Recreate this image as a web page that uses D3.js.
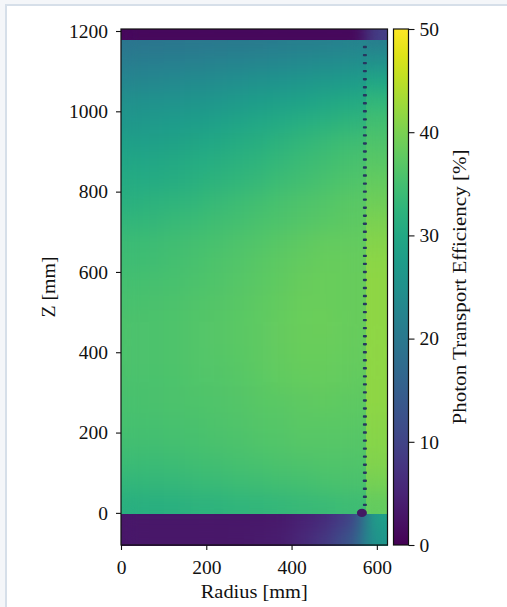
<!DOCTYPE html>
<html>
<head>
<meta charset="utf-8">
<script src="https://cdn.jsdelivr.net/npm/d3@7"></script>
<style>
  html, body { margin: 0; padding: 0; background: #f4f6f9; overflow: hidden; }
  #panel { position: absolute; left: 5px; top: 4px; width: 640px; height: 720px; background: #fff; border: 2px solid #d6dfe9; box-sizing: border-box; }
  #root { position: absolute; left: 0; top: 0; }
</style>
</head>
<body>
<div id="panel"></div>
<div id="root"></div>
<script>
/* global d3 */

// radial bin edges [mm]; the last column is the strip outside the sensor ring
const radiusEdges = [0, 50, 100, 150, 200, 250, 300, 350, 400, 450, 500, 550, 575, 625];
// height bin edges [mm], bottom to top
const zEdges = [-80, -40, 0, 50, 100, 150, 200, 250, 300, 350, 400, 450, 500, 550, 600,
  650, 700, 750, 800, 850, 900, 950, 1000, 1050, 1100, 1150, 1180, 1205];

// photon transport efficiency [%], one row per z bin (bottom to top)
const efficiency = [
  [3, 3, 3, 3, 3, 3.2, 3.5, 4, 5.5, 8, 12, 18, 26],
  [3, 3, 3, 3, 3, 3, 3.2, 3.5, 4.5, 6, 9, 15, 28],
  [31.5, 31.6, 31.8, 32.1, 32.4, 32.7, 33.0, 33.3, 33.6, 33.9, 34.2, 34.4, 38],
  [33.0, 33.1, 33.3, 33.6, 33.9, 34.2, 34.5, 34.8, 35.1, 35.4, 35.6, 35.7, 39.5],
  [34.0, 34.1, 34.3, 34.6, 34.9, 35.2, 35.5, 35.8, 36.1, 36.3, 36.3, 36.2, 40.5],
  [34.8, 34.9, 35.1, 35.3, 35.6, 35.9, 36.2, 36.5, 36.8, 36.9, 36.8, 36.7, 41],
  [35.2, 35.3, 35.5, 35.7, 36.0, 36.3, 36.6, 36.9, 37.2, 37.3, 37.2, 37.1, 41.2],
  [35.5, 35.6, 35.8, 36.0, 36.3, 36.6, 37.0, 37.3, 37.6, 37.7, 37.6, 37.5, 41.5],
  [35.6, 35.7, 35.9, 36.2, 36.5, 36.9, 37.3, 37.7, 38.0, 38.1, 37.9, 37.8, 41.5],
  [35.8, 35.9, 36.1, 36.4, 36.7, 37.1, 37.5, 37.9, 38.3, 38.4, 38.2, 38.1, 41.5],
  [35.8, 35.9, 36.1, 36.4, 36.8, 37.2, 37.6, 38.1, 38.5, 38.6, 38.3, 38.2, 41.5],
  [35.8, 35.9, 36.1, 36.4, 36.8, 37.2, 37.6, 38.1, 38.6, 38.7, 38.4, 38.3, 41.5],
  [35.5, 35.6, 35.9, 36.2, 36.6, 37.0, 37.5, 38.0, 38.5, 38.6, 38.4, 38.3, 41.5],
  [35.0, 35.2, 35.5, 35.9, 36.3, 36.8, 37.3, 37.8, 38.3, 38.5, 38.4, 38.3, 41.5],
  [34.5, 34.7, 35.1, 35.5, 36.0, 36.5, 37.0, 37.5, 38.0, 38.3, 38.3, 38.2, 41.3],
  [34.0, 34.2, 34.6, 35.0, 35.5, 36.0, 36.5, 37.0, 37.5, 37.9, 38.0, 38.0, 40.8],
  [33.0, 33.2, 33.6, 34.1, 34.6, 35.1, 35.6, 36.1, 36.6, 37.1, 37.4, 37.6, 40],
  [31.8, 32.1, 32.5, 33.0, 33.6, 34.2, 34.8, 35.4, 36.0, 36.5, 37.0, 37.3, 39],
  [30.5, 30.8, 31.2, 31.7, 32.3, 32.9, 33.5, 34.2, 34.9, 35.5, 36.1, 36.4, 38],
  [29.5, 29.8, 30.2, 30.7, 31.3, 31.9, 32.6, 33.3, 34.0, 34.7, 35.3, 35.6, 37],
  [28.0, 28.3, 28.8, 29.4, 30.0, 30.7, 31.4, 32.1, 32.9, 33.6, 34.2, 34.6, 36],
  [26.5, 26.8, 27.2, 27.7, 28.3, 29.0, 29.7, 30.4, 31.1, 31.8, 32.4, 32.8, 34.8],
  [25.0, 25.2, 25.6, 26.0, 26.5, 27.1, 27.7, 28.3, 28.9, 29.5, 30.1, 30.5, 33],
  [23.0, 23.2, 23.5, 23.9, 24.3, 24.8, 25.3, 25.8, 26.3, 26.8, 27.3, 27.7, 29.5],
  [21.0, 21.1, 21.3, 21.6, 21.9, 22.3, 22.7, 23.1, 23.5, 23.9, 24.3, 24.7, 25],
  [19.3, 19.4, 19.6, 19.8, 20.0, 20.2, 20.5, 20.8, 21.1, 21.4, 21.7, 22.0, 21],
  [1, 1, 1, 1, 1, 1, 1, 1, 1, 1, 1, 1.5, 9],
];

// sensor positions drawn as small marks along the barrel
const sensorRadius = 572;
const sensorZ = [20, 40, 60, 80, 100, 120, 140, 160, 180, 200, 220, 240, 260, 280, 300,
  320, 340, 360, 380, 400, 420, 440, 460, 480, 500, 520, 540, 560, 580, 600, 620, 640,
  660, 680, 700, 720, 740, 760, 780, 800, 820, 840, 860, 880, 900, 920, 940, 960, 980,
  1000, 1020, 1040, 1060, 1080, 1100, 1120, 1140, 1160];
const cornerSensor = { r: 565, z: 0 };

const xTicks = [0, 200, 400, 600];
const zTicks = [0, 200, 400, 600, 800, 1000, 1200];
const colorTicks = [0, 10, 20, 30, 40, 50];

const width = 507;
const height = 607;
const font = '"Liberation Serif", "DejaVu Serif", serif';
const fontSize = '19.5px';
const ink = '#111';

const x = d3.scaleLinear().domain([0, 625]).range([121, 387.5]);
const y = d3.scaleLinear().domain([-80, 1205]).range([545, 29]);
const color = d3.scaleSequential(d3.interpolateViridis).domain([0, 50]);
const cbar = d3.scaleLinear().domain([0, 50]).range([545, 29]);

const svg = d3.select('#root')
  .append('svg')
  .attr('width', width)
  .attr('height', height);

const defs = svg.append('defs');

// blur each block and renormalise alpha so edges keep their own colour
const smooth = defs.append('filter')
  .attr('id', 'smooth')
  .attr('x', 0).attr('y', 0).attr('width', 1).attr('height', 1)
  .attr('color-interpolation-filters', 'sRGB');
smooth.append('feGaussianBlur').attr('stdDeviation', 8);
smooth.append('feComponentTransfer')
  .append('feFuncA').attr('type', 'linear').attr('slope', 60).attr('intercept', 0);

const cells = [];
efficiency.forEach((row, i) => {
  row.forEach((value, j) => {
    let block = 'main';
    if (i < 2) block = 'bottom';
    else if (i === efficiency.length - 1) block = 'top';
    else if (j === row.length - 1) block = 'strip';
    cells.push({
      r0: radiusEdges[j], r1: radiusEdges[j + 1],
      z0: zEdges[i], z1: zEdges[i + 1],
      value, block,
    });
  });
});

const heat = svg.append('g').attr('class', 'heat');
d3.groups(cells, (d) => d.block).forEach(([, blockCells]) => {
  heat.append('g')
    .attr('filter', 'url(#smooth)')
    .selectAll('rect')
    .data(blockCells)
    .enter()
    .append('rect')
    .attr('x', (d) => x(d.r0))
    .attr('y', (d) => y(d.z1))
    .attr('width', (d) => x(d.r1) - x(d.r0) + 0.5)
    .attr('height', (d) => y(d.z0) - y(d.z1) + 0.5)
    .attr('fill', (d) => color(d.value));
});

svg.append('g')
  .selectAll('rect')
  .data(sensorZ)
  .enter()
  .append('rect')
  .attr('x', x(sensorRadius) - 2)
  .attr('y', (d) => y(d) - 1.2)
  .attr('width', 4)
  .attr('height', 2.4)
  .attr('rx', 0.8)
  .attr('fill', '#27365f');

svg.append('ellipse')
  .attr('cx', x(cornerSensor.r))
  .attr('cy', y(cornerSensor.z))
  .attr('rx', 5)
  .attr('ry', 4.2)
  .attr('fill', '#421a62');

svg.append('rect')
  .attr('x', x(0))
  .attr('y', y(1205))
  .attr('width', x(625) - x(0))
  .attr('height', y(-80) - y(1205))
  .attr('fill', 'none')
  .attr('stroke', ink)
  .attr('stroke-width', 1.2);

function styleAxis(g) {
  g.attr('font-family', font).attr('font-size', fontSize);
  g.select('.domain').remove();
  g.selectAll('.tick line').attr('stroke', ink).attr('stroke-width', 1.1);
  g.selectAll('.tick text').attr('fill', ink);
}

svg.append('g')
  .attr('transform', `translate(${ x(0) },0)`)
  .call(d3.axisLeft(y).tickValues(zTicks).tickFormat(d3.format('d')).tickSize(5).tickPadding(8))
  .call(styleAxis);

svg.append('g')
  .attr('transform', `translate(0,${ y(-80) })`)
  .call(d3.axisBottom(x).tickValues(xTicks).tickFormat(d3.format('d')).tickSize(5).tickPadding(10))
  .call(styleAxis);

function label(text, length) {
  return svg.append('text')
    .attr('text-anchor', 'middle')
    .attr('font-family', font)
    .attr('font-size', fontSize)
    .attr('fill', ink)
    .attr('textLength', length)
    .attr('lengthAdjust', 'spacingAndGlyphs')
    .text(text);
}

label('Z [mm]', 61)
  .attr('transform', `translate(55,${ (y(-80) + y(1205)) / 2 }) rotate(-90)`);

label('Radius [mm]', 107)
  .attr('x', (x(0) + x(625)) / 2)
  .attr('y', 598);

// colour bar
const grad = defs.append('linearGradient')
  .attr('id', 'viridis')
  .attr('x1', 0).attr('y1', 1).attr('x2', 0).attr('y2', 0);
d3.range(0, 1.0001, 0.05).forEach((t) => {
  grad.append('stop').attr('offset', t).attr('stop-color', d3.interpolateViridis(t));
});

const cbarX0 = 393.5;
const cbarX1 = 408.5;
svg.append('rect')
  .attr('x', cbarX0)
  .attr('y', cbar(50))
  .attr('width', cbarX1 - cbarX0)
  .attr('height', cbar(0) - cbar(50))
  .attr('fill', 'url(#viridis)')
  .attr('stroke', ink)
  .attr('stroke-width', 1.2);

svg.append('g')
  .attr('transform', `translate(${ cbarX1 },0)`)
  .call(d3.axisRight(cbar).tickValues(colorTicks).tickSize(6).tickPadding(5))
  .call(styleAxis);

label('Photon Transport Efficiency [%]', 275)
  .attr('transform', `translate(466,${ (cbar(0) + cbar(50)) / 2 }) rotate(-90)`);
</script>
</body>
</html>
